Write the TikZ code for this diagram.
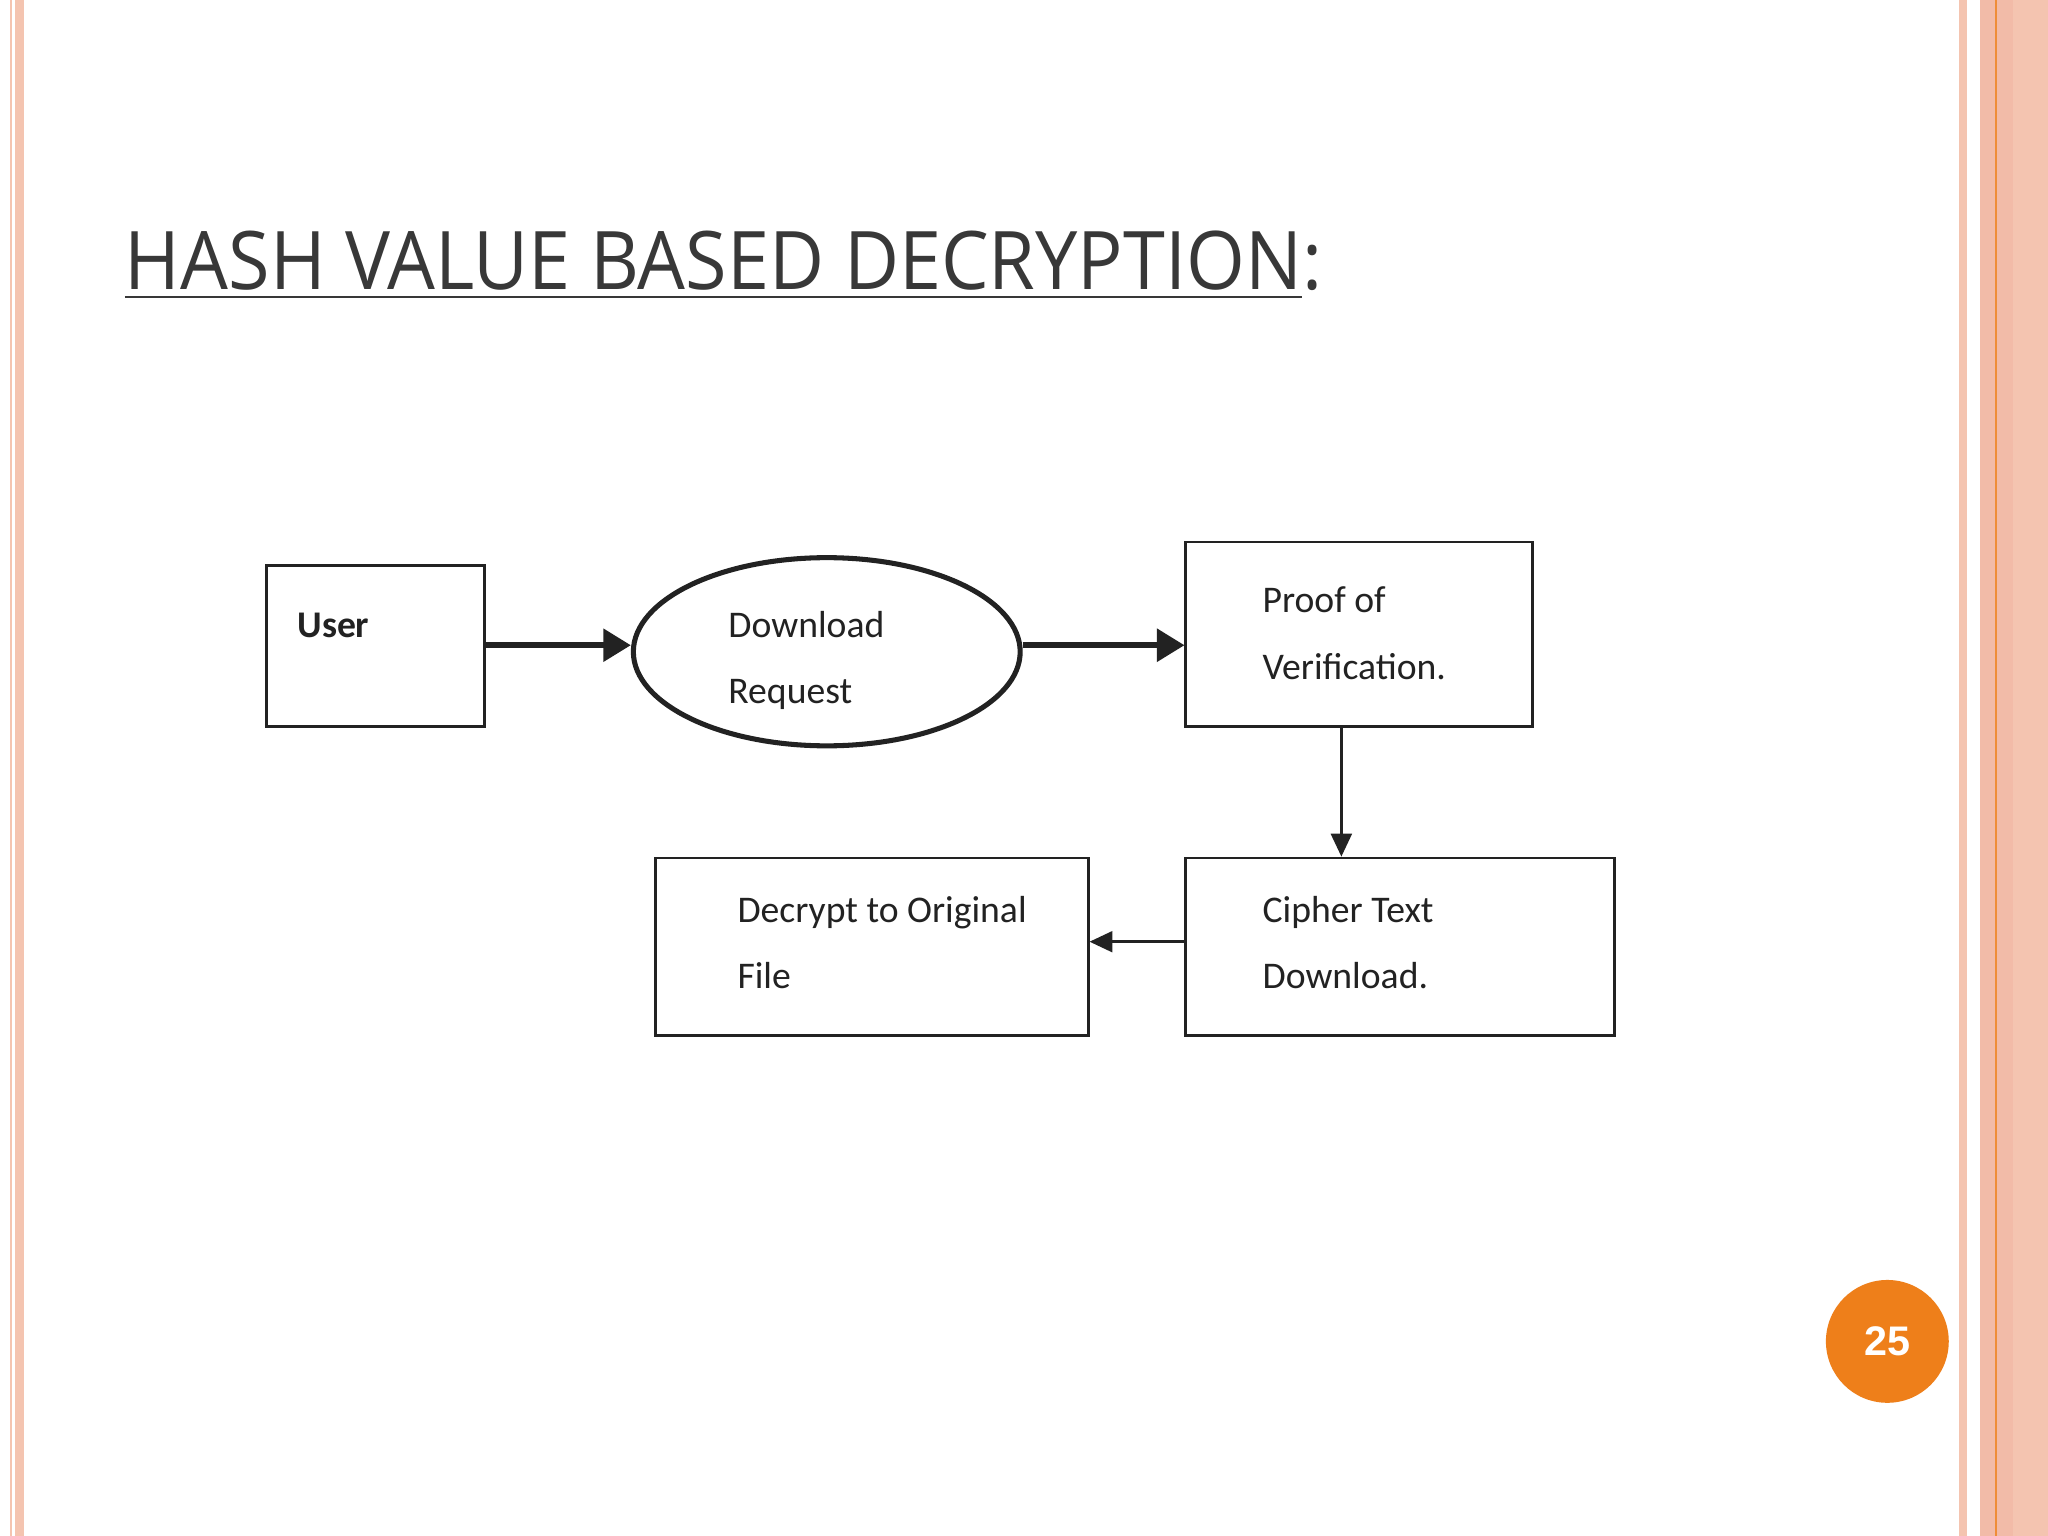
\documentclass[tikz,border=0pt]{standalone}
\usepackage{fontspec}
\setmainfont{Carlito}
\newfontfamily\titlefont{Open Sans}
\usetikzlibrary{shapes.geometric,arrows.meta}
\definecolor{salmon}{HTML}{F4C4B0}
\definecolor{salmonA}{HTML}{F2BBA8}
\definecolor{orng}{HTML}{EE7F1A}
\definecolor{ink}{HTML}{222222}
\begin{document}
\begin{tikzpicture}[x=0.01cm,y=-0.01cm,
  boxst/.style={draw=ink,line width=0.6pt,inner sep=0},
  lbl/.style={anchor=base west,inner sep=0,font=\fontsize{8.2pt}{10pt}\selectfont,text=ink},
  thickarr/.style={draw=ink,line width=1.2pt,-{Triangle[length=6pt,width=7pt]}},
  thinarr/.style={draw=ink,line width=0.7pt,-{Triangle[length=5pt,width=4.5pt]}}]
\useasboundingbox (0,0) rectangle (1568,1176);
\fill[white] (0,0) rectangle (1568,1176);
% borders
\fill[salmon] (7.5,0) rectangle (9.5,1176);
\fill[salmon] (11.5,0) rectangle (18.5,1176);
\fill[salmon] (1500,0) rectangle (1506,1176);
\fill[salmon] (1516,0) rectangle (1568,1176);
\fill[salmonA] (1516,0) rectangle (1541,1176);
\fill[orng!80!salmon] (1527.5,0) rectangle (1529,1176);
% title
\node[anchor=base west,inner sep=0,font=\titlefont\fontsize{17.6pt}{20pt}\selectfont,text=ink!90!white] (title) at (95,222) {\scalebox{0.935}[1]{\underline{HASH VALUE BASED DECRYPTION}:}};
% nodes
\node[boxst,minimum width=1.67cm,minimum height=1.23cm] (user) at (287.5,494.5) {};
\node[boxst,ellipse,minimum width=2.96cm,minimum height=1.44cm,line width=1.1pt] (req) at (633,499) {};
\node[boxst,minimum width=2.65cm,minimum height=1.41cm] (proof) at (1040.5,485.5) {};
\node[boxst,minimum width=3.28cm,minimum height=1.36cm] (cipher) at (1072,725) {};
\node[boxst,minimum width=3.31cm,minimum height=1.36cm] (dec) at (667.5,725) {};
% labels
\node[lbl,font=\bfseries\fontsize{8.2pt}{10pt}\selectfont] (tu) at (227,488) {User};
\node[lbl] (t1) at (557,488) {Download};
\node[lbl] (t2) at (557,539) {Request};
\node[lbl] (t3) at (966,469) {Proof of};
\node[lbl] (t4) at (966,520) {Verification.};
\node[lbl] (t5) at (966,706) {Cipher Text};
\node[lbl] (t6) at (966,757) {Download.};
\node[lbl] (t7) at (564,706) {Decrypt to Original};
\node[lbl] (t8) at (564,757) {File};
% connectors
\draw[thickarr] (user.east |- 0,494) -- (req.west |- 0,494);
\draw[thickarr] (req.east |- 0,494) -- (proof.west |- 0,494);
\draw[thinarr] ([xshift=-0.135cm]proof.south) -- ([xshift=-0.135cm]proof.south |- cipher.north);
\draw[thinarr] ([yshift=0.04cm]cipher.west) -- ([yshift=0.04cm]cipher.west -| dec.east);
% page number
\node[circle,fill=orng,minimum size=0.94cm,inner sep=0,text=white,font=\sffamily\bfseries\fontsize{9pt}{10pt}\selectfont] (pg) at (1445,1027) {\fontspec{Liberation Sans}\bfseries 25};
\end{tikzpicture}
\end{document}
